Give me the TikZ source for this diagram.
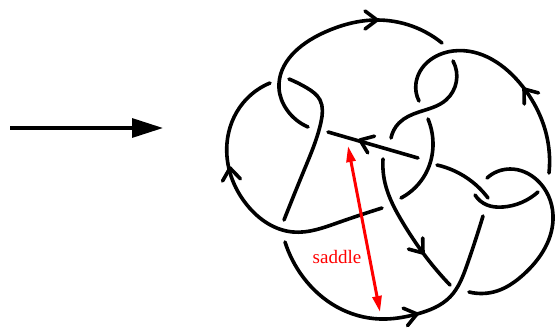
\documentclass[tikz,border=0pt]{standalone}
\usepackage{fontspec}
\setmainfont{Liberation Serif}
\usetikzlibrary{arrows.meta,hobby}
\newcommand{\pKnotChevron}[3]{\draw[knotline, shift={(#1,#2)}, rotate=#3] (-12,-9) -- (0,0) -- (-12,9);}
\tikzset{
  knotline/.style={black, line width=3.6pt, line cap=round, line join=round, use Hobby shortcut},
  saddlearrow/.style={red, line width=3pt, {Triangle[length=16pt,width=9pt]}-{Triangle[length=16pt,width=9pt]}},
  maparrow/.style={black, line width=3.2pt, -{Triangle[length=31pt,width=19pt]}}
}
\begin{document}
\begin{tikzpicture}[x=1pt,y=-1pt]
\useasboundingbox (0,0) rectangle (556,329);
\coordinate (mapStart) at (10,128);
\coordinate (mapEnd) at (163,128);
\draw[maparrow] (mapStart) -- (mapEnd);
\draw[knotline] (308,127) .. (287,110) .. (279,88) .. (323,33) .. (377,20) .. (442,43);
\draw[knotline] (270,83) .. (243,103) .. (227,143) .. (247,205) .. (293,232) .. (337,223) .. (382,208);
\draw[knotline] (289,79) .. (307,88) .. (320,100) .. (321,122) .. (305,168) .. (284,220);
\draw[knotline] (328,132) .. (418,158);
\draw[knotline] (285,242) .. (303,277) .. (337,307) .. (380,319) .. (417,314) .. (450,297) .. (467,265) .. (483,216);
\draw[knotline] (419,101) .. (416,83) .. (453,51) .. (523,87) .. (546,133) .. (549,173);
\draw[knotline] (453,61) .. (446,100) .. (419,112) .. (399,123) .. (391,138);
\draw[knotline] (428,119) .. (433,143) .. (426,173) .. (401,198);
\draw[knotline] (383,159) .. (385,183) .. (403,223) .. (423,253) .. (450,285);
\draw[knotline] (437,165) .. (467,178) .. (488,198);
\draw[knotline] (475,195) .. (487,205) .. (503,207) .. (538,192);
\draw[knotline] (487,178) .. (510,169) .. (537,180) .. (553,215) .. (523,275) .. (497,291) .. (469,292);
\pKnotChevron{377}{20}{0}
\pKnotChevron{230}{168}{97}
\pKnotChevron{360}{140}{158}
\pKnotChevron{524}{89}{128}
\pKnotChevron{417}{314}{14}
\pKnotChevron{423}{253}{-52}
\coordinate (saddleTop) at (348,146);
\coordinate (saddleBottom) at (380,312);
\draw[saddlearrow] (saddleTop) -- (saddleBottom);
\node[text=red, font={\fontsize{19}{21}\selectfont}, inner sep=0pt] (saddleLabel) at (337,257) {saddle};
\end{tikzpicture}
\end{document}
